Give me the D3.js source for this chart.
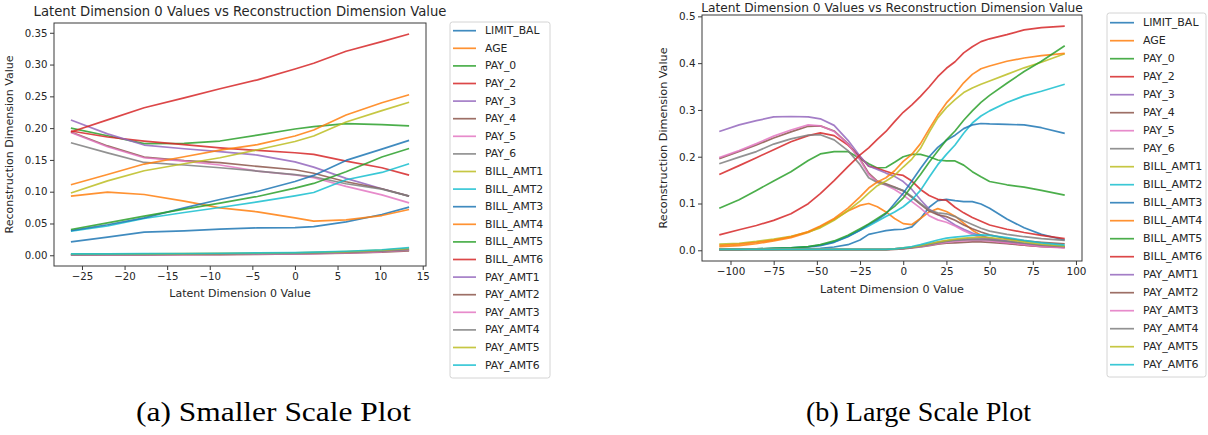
<!DOCTYPE html>
<html>
<head>
<meta charset="utf-8">
<script src="https://cdn.jsdelivr.net/npm/d3@7"></script>
<style>
  body { margin: 0; background: #fff; }
  svg { display: block; font-family: "DejaVu Sans", sans-serif; }
</style>
</head>
<body>
<svg id="fig" width="1208" height="435"></svg>
<script>
// ---- feature names (legend order) ----
const featureNames = ["LIMIT_BAL", "AGE", "PAY_0", "PAY_2", "PAY_3", "PAY_4", "PAY_5", "PAY_6",
  "BILL_AMT1", "BILL_AMT2", "BILL_AMT3", "BILL_AMT4", "BILL_AMT5", "BILL_AMT6",
  "PAY_AMT1", "PAY_AMT2", "PAY_AMT3", "PAY_AMT4", "PAY_AMT5", "PAY_AMT6"];

// ---- (a) smaller scale: latent values and reconstructed features ----
const smallLatent = [-26.3, -22, -17.7, -13, -8.8, -4.4, 0, 2.2, 6, 10.2, 13.4];
const sm_LIMIT_BAL = [0.021, 0.0284, 0.0363, 0.0384, 0.041, 0.0431, 0.0436, 0.0452, 0.0525, 0.0641, 0.0757];
const sm_AGE       = [0.093, 0.0993, 0.0956, 0.0851, 0.0746, 0.0683, 0.0589, 0.0536, 0.0557, 0.0625, 0.072];
const sm_PAY_0     = [0.200, 0.188, 0.1755, 0.176, 0.1797, 0.189, 0.1986, 0.2023, 0.207, 0.2055, 0.2034];
const sm_PAY_2     = [0.1955, 0.186, 0.1797, 0.174, 0.169, 0.165, 0.1613, 0.1587, 0.148, 0.1377, 0.126];
const sm_PAY_3     = [0.2128, 0.191, 0.1734, 0.1676, 0.163, 0.1576, 0.147, 0.1387, 0.121, 0.1046, 0.093];
const sm_PAY_4     = [0.194, 0.172, 0.1545, 0.149, 0.1456, 0.1398, 0.1345, 0.129, 0.1156, 0.1046, 0.093];
const sm_PAY_5     = [0.193, 0.1708, 0.1534, 0.148, 0.142, 0.1324, 0.1266, 0.122, 0.1083, 0.0951, 0.0825];
const sm_PAY_6     = [0.177, 0.161, 0.146, 0.142, 0.1377, 0.1324, 0.127, 0.1235, 0.1125, 0.104, 0.093];
const sm_BILL_AMT1 = [0.098, 0.117, 0.133, 0.144, 0.1534, 0.166, 0.179, 0.1876, 0.2097, 0.2275, 0.2407];
const sm_BILL_AMT2 = [0.0378, 0.046, 0.0578, 0.0673, 0.0751, 0.0841, 0.0935, 0.0988, 0.1188, 0.1303, 0.144];
const sm_BILL_AMT3 = [0.0389, 0.048, 0.0589, 0.0746, 0.0878, 0.1004, 0.1161, 0.1256, 0.1492, 0.167, 0.1808];
const sm_BILL_AMT4 = [0.111, 0.127, 0.1435, 0.155, 0.1655, 0.174, 0.1876, 0.197, 0.2207, 0.240, 0.2525];
const sm_BILL_AMT5 = [0.0405, 0.051, 0.0615, 0.0725, 0.082, 0.0925, 0.1056, 0.113, 0.1314, 0.1545, 0.168];
const sm_BILL_AMT6 = [0.194, 0.213, 0.232, 0.2475, 0.262, 0.276, 0.293, 0.302, 0.321, 0.336, 0.348];
const sm_PAY_AMT1  = [0.001, 0.001, 0.001, 0.0012, 0.0015, 0.002, 0.0025, 0.003, 0.004, 0.006, 0.009];
const sm_PAY_AMT2  = [0.0005, 0.0005, 0.0006, 0.0008, 0.001, 0.0014, 0.002, 0.0025, 0.0035, 0.005, 0.007];
const sm_PAY_AMT3  = [0.001, 0.001, 0.001, 0.0011, 0.0013, 0.0017, 0.0022, 0.0027, 0.0037, 0.0055, 0.008];
const sm_PAY_AMT4  = [0.001, 0.0012, 0.0014, 0.0016, 0.0019, 0.0024, 0.003, 0.0035, 0.0045, 0.0065, 0.009];
const sm_PAY_AMT5  = [0.002, 0.002, 0.0022, 0.0025, 0.0029, 0.0034, 0.004, 0.0046, 0.0058, 0.008, 0.011];
const sm_PAY_AMT6  = [0.0022, 0.0023, 0.0025, 0.0028, 0.0032, 0.0037, 0.0043, 0.005, 0.0063, 0.0087, 0.012];

// ---- (b) large scale ----
const largeLatent = [-106.5, -95, -85, -75, -65, -55, -48, -40, -32, -25, -20, -15, -10, -5, 0,
  5, 10, 15, 20, 25, 30, 35, 40, 45, 50, 60, 70, 80, 93.5];
const lg_LIMIT_BAL = [0.002, 0.002, 0.002, 0.002, 0.003, 0.003, 0.004, 0.007, 0.012, 0.022, 0.034, 0.038, 0.042, 0.044, 0.045, 0.050, 0.068, 0.092, 0.106, 0.109, 0.106, 0.104, 0.104, 0.099, 0.090, 0.067, 0.048, 0.034, 0.022];
const lg_AGE       = [0.008, 0.010, 0.014, 0.020, 0.027, 0.038, 0.050, 0.066, 0.084, 0.096, 0.100, 0.093, 0.082, 0.068, 0.057, 0.055, 0.068, 0.082, 0.089, 0.083, 0.073, 0.058, 0.043, 0.032, 0.024, 0.016, 0.011, 0.009, 0.006];
const lg_PAY_0     = [0.090, 0.108, 0.128, 0.148, 0.168, 0.192, 0.206, 0.211, 0.211, 0.196, 0.185, 0.176, 0.177, 0.188, 0.200, 0.205, 0.205, 0.200, 0.193, 0.191, 0.191, 0.182, 0.168, 0.157, 0.147, 0.140, 0.135, 0.128, 0.118];
const lg_PAY_2     = [0.162, 0.181, 0.198, 0.215, 0.232, 0.245, 0.251, 0.245, 0.225, 0.200, 0.180, 0.175, 0.169, 0.163, 0.160, 0.148, 0.130, 0.117, 0.109, 0.107, 0.092, 0.080, 0.070, 0.062, 0.054, 0.045, 0.038, 0.032, 0.025];
const lg_PAY_3     = [0.254, 0.268, 0.277, 0.285, 0.286, 0.285, 0.281, 0.267, 0.235, 0.201, 0.180, 0.173, 0.165, 0.158, 0.147, 0.130, 0.108, 0.088, 0.077, 0.066, 0.054, 0.045, 0.037, 0.031, 0.026, 0.019, 0.014, 0.010, 0.007];
const lg_PAY_4     = [0.196, 0.211, 0.225, 0.240, 0.253, 0.265, 0.266, 0.255, 0.228, 0.195, 0.165, 0.148, 0.142, 0.135, 0.127, 0.113, 0.098, 0.084, 0.076, 0.072, 0.064, 0.054, 0.046, 0.039, 0.033, 0.025, 0.020, 0.017, 0.014];
const lg_PAY_5     = [0.198, 0.213, 0.228, 0.244, 0.257, 0.268, 0.266, 0.254, 0.227, 0.193, 0.162, 0.146, 0.139, 0.130, 0.118, 0.104, 0.090, 0.074, 0.065, 0.060, 0.052, 0.042, 0.034, 0.027, 0.022, 0.015, 0.011, 0.009, 0.007];
const lg_PAY_6     = [0.185, 0.199, 0.211, 0.227, 0.238, 0.246, 0.247, 0.236, 0.213, 0.183, 0.155, 0.145, 0.140, 0.134, 0.128, 0.115, 0.100, 0.086, 0.080, 0.078, 0.072, 0.063, 0.055, 0.047, 0.041, 0.034, 0.029, 0.025, 0.021];
const lg_BILL_AMT1 = [0.013, 0.015, 0.019, 0.024, 0.030, 0.039, 0.048, 0.064, 0.085, 0.105, 0.122, 0.138, 0.148, 0.160, 0.178, 0.195, 0.218, 0.252, 0.283, 0.305, 0.322, 0.337, 0.347, 0.355, 0.362, 0.376, 0.390, 0.402, 0.420];
const lg_BILL_AMT2 = [0.002, 0.002, 0.003, 0.004, 0.005, 0.008, 0.011, 0.018, 0.030, 0.043, 0.052, 0.062, 0.072, 0.082, 0.093, 0.108, 0.128, 0.156, 0.183, 0.205, 0.225, 0.250, 0.272, 0.287, 0.298, 0.316, 0.330, 0.340, 0.355];
const lg_BILL_AMT3 = [0.002, 0.002, 0.003, 0.004, 0.005, 0.007, 0.010, 0.017, 0.029, 0.043, 0.055, 0.065, 0.078, 0.100, 0.122, 0.148, 0.175, 0.200, 0.220, 0.235, 0.246, 0.260, 0.268, 0.271, 0.270, 0.269, 0.268, 0.262, 0.250];
const lg_BILL_AMT4 = [0.0107, 0.013, 0.017, 0.022, 0.029, 0.040, 0.052, 0.068, 0.090, 0.114, 0.133, 0.146, 0.155, 0.170, 0.190, 0.205, 0.228, 0.259, 0.289, 0.315, 0.335, 0.358, 0.376, 0.388, 0.394, 0.404, 0.411, 0.416, 0.421];
const lg_BILL_AMT5 = [0.002, 0.002, 0.003, 0.004, 0.005, 0.008, 0.012, 0.020, 0.032, 0.046, 0.056, 0.068, 0.080, 0.094, 0.112, 0.138, 0.162, 0.188, 0.212, 0.236, 0.255, 0.278, 0.298, 0.316, 0.331, 0.357, 0.382, 0.404, 0.437];
const lg_BILL_AMT6 = [0.033, 0.044, 0.053, 0.064, 0.078, 0.0996, 0.121, 0.149, 0.179, 0.204, 0.219, 0.237, 0.254, 0.275, 0.295, 0.311, 0.329, 0.349, 0.371, 0.389, 0.403, 0.422, 0.435, 0.446, 0.452, 0.461, 0.471, 0.476, 0.479];
const lg_PAY_AMT1  = [0.002, 0.002, 0.002, 0.002, 0.002, 0.002, 0.002, 0.002, 0.002, 0.002, 0.002, 0.002, 0.002, 0.003, 0.004, 0.006, 0.009, 0.013, 0.017, 0.020, 0.022, 0.024, 0.025, 0.025, 0.024, 0.020, 0.015, 0.011, 0.007];
const lg_PAY_AMT2  = [0.001, 0.001, 0.001, 0.001, 0.001, 0.001, 0.001, 0.001, 0.001, 0.001, 0.001, 0.001, 0.001, 0.002, 0.003, 0.005, 0.007, 0.010, 0.013, 0.015, 0.016, 0.017, 0.018, 0.018, 0.017, 0.014, 0.011, 0.008, 0.006];
const lg_PAY_AMT3  = [0.002, 0.002, 0.002, 0.002, 0.002, 0.002, 0.002, 0.002, 0.002, 0.002, 0.002, 0.002, 0.002, 0.003, 0.004, 0.006, 0.008, 0.011, 0.014, 0.017, 0.019, 0.020, 0.021, 0.021, 0.020, 0.016, 0.012, 0.008, 0.005];
const lg_PAY_AMT4  = [0.002, 0.002, 0.002, 0.002, 0.002, 0.002, 0.002, 0.002, 0.002, 0.002, 0.002, 0.002, 0.002, 0.003, 0.004, 0.006, 0.009, 0.012, 0.016, 0.019, 0.021, 0.022, 0.023, 0.023, 0.022, 0.019, 0.015, 0.011, 0.008];
const lg_PAY_AMT5  = [0.002, 0.002, 0.002, 0.002, 0.002, 0.002, 0.002, 0.002, 0.002, 0.002, 0.002, 0.002, 0.002, 0.003, 0.005, 0.007, 0.010, 0.014, 0.018, 0.021, 0.024, 0.026, 0.027, 0.028, 0.027, 0.023, 0.018, 0.013, 0.009];
const lg_PAY_AMT6  = [0.002, 0.002, 0.002, 0.002, 0.002, 0.002, 0.002, 0.002, 0.002, 0.002, 0.002, 0.002, 0.002, 0.003, 0.005, 0.008, 0.012, 0.017, 0.022, 0.026, 0.028, 0.030, 0.032, 0.033, 0.032, 0.027, 0.021, 0.016, 0.011];

// ---- tick labels ----
const smallXTicks = [-25, -20, -15, -10, -5, 0, 5, 10, 15];
const smallYTicks = [0, 0.05, 0.10, 0.15, 0.20, 0.25, 0.30, 0.35];
const largeXTicks = [-100, -75, -50, -25, 0, 25, 50, 75, 100];
const largeYTicks = [0, 0.1, 0.2, 0.3, 0.4, 0.5];

const titleText = "Latent Dimension 0 Values vs Reconstruction Dimension Value";
const xLabelText = "Latent Dimension 0 Value";
const yLabelText = "Reconstruction Dimension Value";
const captions = ["(a) Smaller Scale Plot", "(b) Large Scale Plot"];

const smallSeries = [sm_LIMIT_BAL, sm_AGE, sm_PAY_0, sm_PAY_2, sm_PAY_3, sm_PAY_4, sm_PAY_5, sm_PAY_6,
  sm_BILL_AMT1, sm_BILL_AMT2, sm_BILL_AMT3, sm_BILL_AMT4, sm_BILL_AMT5, sm_BILL_AMT6,
  sm_PAY_AMT1, sm_PAY_AMT2, sm_PAY_AMT3, sm_PAY_AMT4, sm_PAY_AMT5, sm_PAY_AMT6];
const largeSeries = [lg_LIMIT_BAL, lg_AGE, lg_PAY_0, lg_PAY_2, lg_PAY_3, lg_PAY_4, lg_PAY_5, lg_PAY_6,
  lg_BILL_AMT1, lg_BILL_AMT2, lg_BILL_AMT3, lg_BILL_AMT4, lg_BILL_AMT5, lg_BILL_AMT6,
  lg_PAY_AMT1, lg_PAY_AMT2, lg_PAY_AMT3, lg_PAY_AMT4, lg_PAY_AMT5, lg_PAY_AMT6];

// tab10 cycle, repeated for the 20 features
const color = i => d3.schemeCategory10[i % 10];

const svg = d3.select("#fig");
const TXT = "#262626";

// padded extent, 5% on each side
function padded(vals) {
  const [a, b] = d3.extent(vals);
  const p = (b - a) * 0.05;
  return [a - p, b + p];
}

function drawPanel(cfg) {
  const { box, latent, series, xTicks, yTicks, yFmt } = cfg;
  const g = svg.append("g");

  const x = d3.scaleLinear().domain(padded(latent)).range([box.left, box.right]);
  const y = d3.scaleLinear().domain(padded(series.flat())).range([box.bottom, box.top]);

  // lines
  const line = d3.line().x((d, i) => x(latent[i])).y(d => y(d));
  g.append("g").selectAll("path").data(series).join("path")
    .attr("d", d => line(d))
    .attr("fill", "none")
    .attr("stroke", (d, i) => color(i))
    .attr("stroke-opacity", 0.85)
    .attr("stroke-width", 1.7)
    .attr("stroke-linejoin", "round");

  // frame
  g.append("rect")
    .attr("x", box.left).attr("y", box.top)
    .attr("width", box.right - box.left).attr("height", box.bottom - box.top)
    .attr("fill", "none").attr("stroke", "#3a3a3a").attr("stroke-width", 1);

  // axes
  const ax = g.append("g").attr("transform", `translate(0,${box.bottom})`)
    .call(d3.axisBottom(x).tickValues(xTicks).tickFormat(d3.format("d")).tickSize(4).tickPadding(2.5));
  const ay = g.append("g").attr("transform", `translate(${box.left},0)`)
    .call(d3.axisLeft(y).tickValues(yTicks).tickFormat(d3.format(yFmt)).tickSize(4).tickPadding(2.5));
  [ax, ay].forEach(a => {
    a.select(".domain").remove();
    a.selectAll("line").attr("stroke", "#3a3a3a");
    a.selectAll("text").attr("fill", TXT).style("font-size", cfg.tickSize + "px")
      .style("font-family", '"DejaVu Sans", sans-serif');
  });

  // labels
  const cx = (box.left + box.right) / 2;
  const cy = (box.top + box.bottom) / 2;
  g.append("text").attr("x", cx).attr("y", cfg.titleY).attr("text-anchor", "middle")
    .attr("fill", TXT).style("font-size", cfg.titleSize + "px").text(titleText);
  g.append("text").attr("x", cx).attr("y", cfg.xLabelY).attr("text-anchor", "middle")
    .attr("fill", TXT).style("font-size", cfg.labelSize + "px").text(xLabelText);
  g.append("text").attr("transform", `translate(${cfg.yLabelX},${cy}) rotate(-90)`)
    .attr("text-anchor", "middle").attr("dominant-baseline", "central")
    .attr("fill", TXT).style("font-size", cfg.labelSize + "px").text(yLabelText);

  // legend
  const L = cfg.legend;
  const lg = g.append("g");
  lg.append("rect").attr("x", L.x).attr("y", L.y).attr("width", L.w).attr("height", L.h)
    .attr("rx", 2.5).attr("fill", "#fff").attr("stroke", "#d4d4d4").attr("stroke-width", 1);
  const items = lg.selectAll("g.item").data(featureNames).join("g").attr("class", "item")
    .attr("transform", (d, i) => `translate(0,${L.first + i * L.step})`);
  items.append("line").attr("x1", L.lx0).attr("x2", L.lx1).attr("y1", 0).attr("y2", 0)
    .attr("stroke", (d, i) => color(i)).attr("stroke-opacity", 0.85).attr("stroke-width", 1.7);
  items.append("text").attr("x", L.tx).attr("y", 0).attr("dominant-baseline", "central")
    .attr("fill", TXT).style("font-size", L.fs + "px").text(d => d);
}

drawPanel({
  box: { left: 54, right: 426, top: 23, bottom: 266 },
  latent: smallLatent, series: smallSeries,
  xTicks: smallXTicks, yTicks: smallYTicks, yFmt: ".2f",
  tickSize: 10.2, titleSize: 13.2, labelSize: 11,
  titleY: 15.5, xLabelY: 297, yLabelX: 9,
  legend: { x: 450, y: 22, w: 100, h: 356, first: 30.7, step: 17.6, lx0: 453, lx1: 476, tx: 485, fs: 10.8 }
});

drawPanel({
  box: { left: 702, right: 1082, top: 15, bottom: 261 },
  latent: largeLatent, series: largeSeries,
  xTicks: largeXTicks, yTicks: largeYTicks, yFmt: ".1f",
  tickSize: 10.4, titleSize: 12.2, labelSize: 11.2,
  titleY: 11.5, xLabelY: 293, yLabelX: 663,
  legend: { x: 1107, y: 13, w: 99, h: 364, first: 22.7, step: 18.0, lx0: 1110, lx1: 1134, tx: 1143, fs: 11 }
});

// sub-figure captions
const captionX = [273.5, 918.5];
const captionW = [275, 225];
svg.selectAll("text.caption").data(captions).join("text").attr("class", "caption")
  .attr("x", (d, i) => captionX[i]).attr("y", 421)
  .attr("text-anchor", "middle").attr("fill", "#000")
  .attr("textLength", (d, i) => captionW[i]).attr("lengthAdjust", "spacingAndGlyphs")
  .style("font-family", '"Liberation Serif", serif').style("font-size", "27px")
  .text(d => d);
</script>
</body>
</html>
